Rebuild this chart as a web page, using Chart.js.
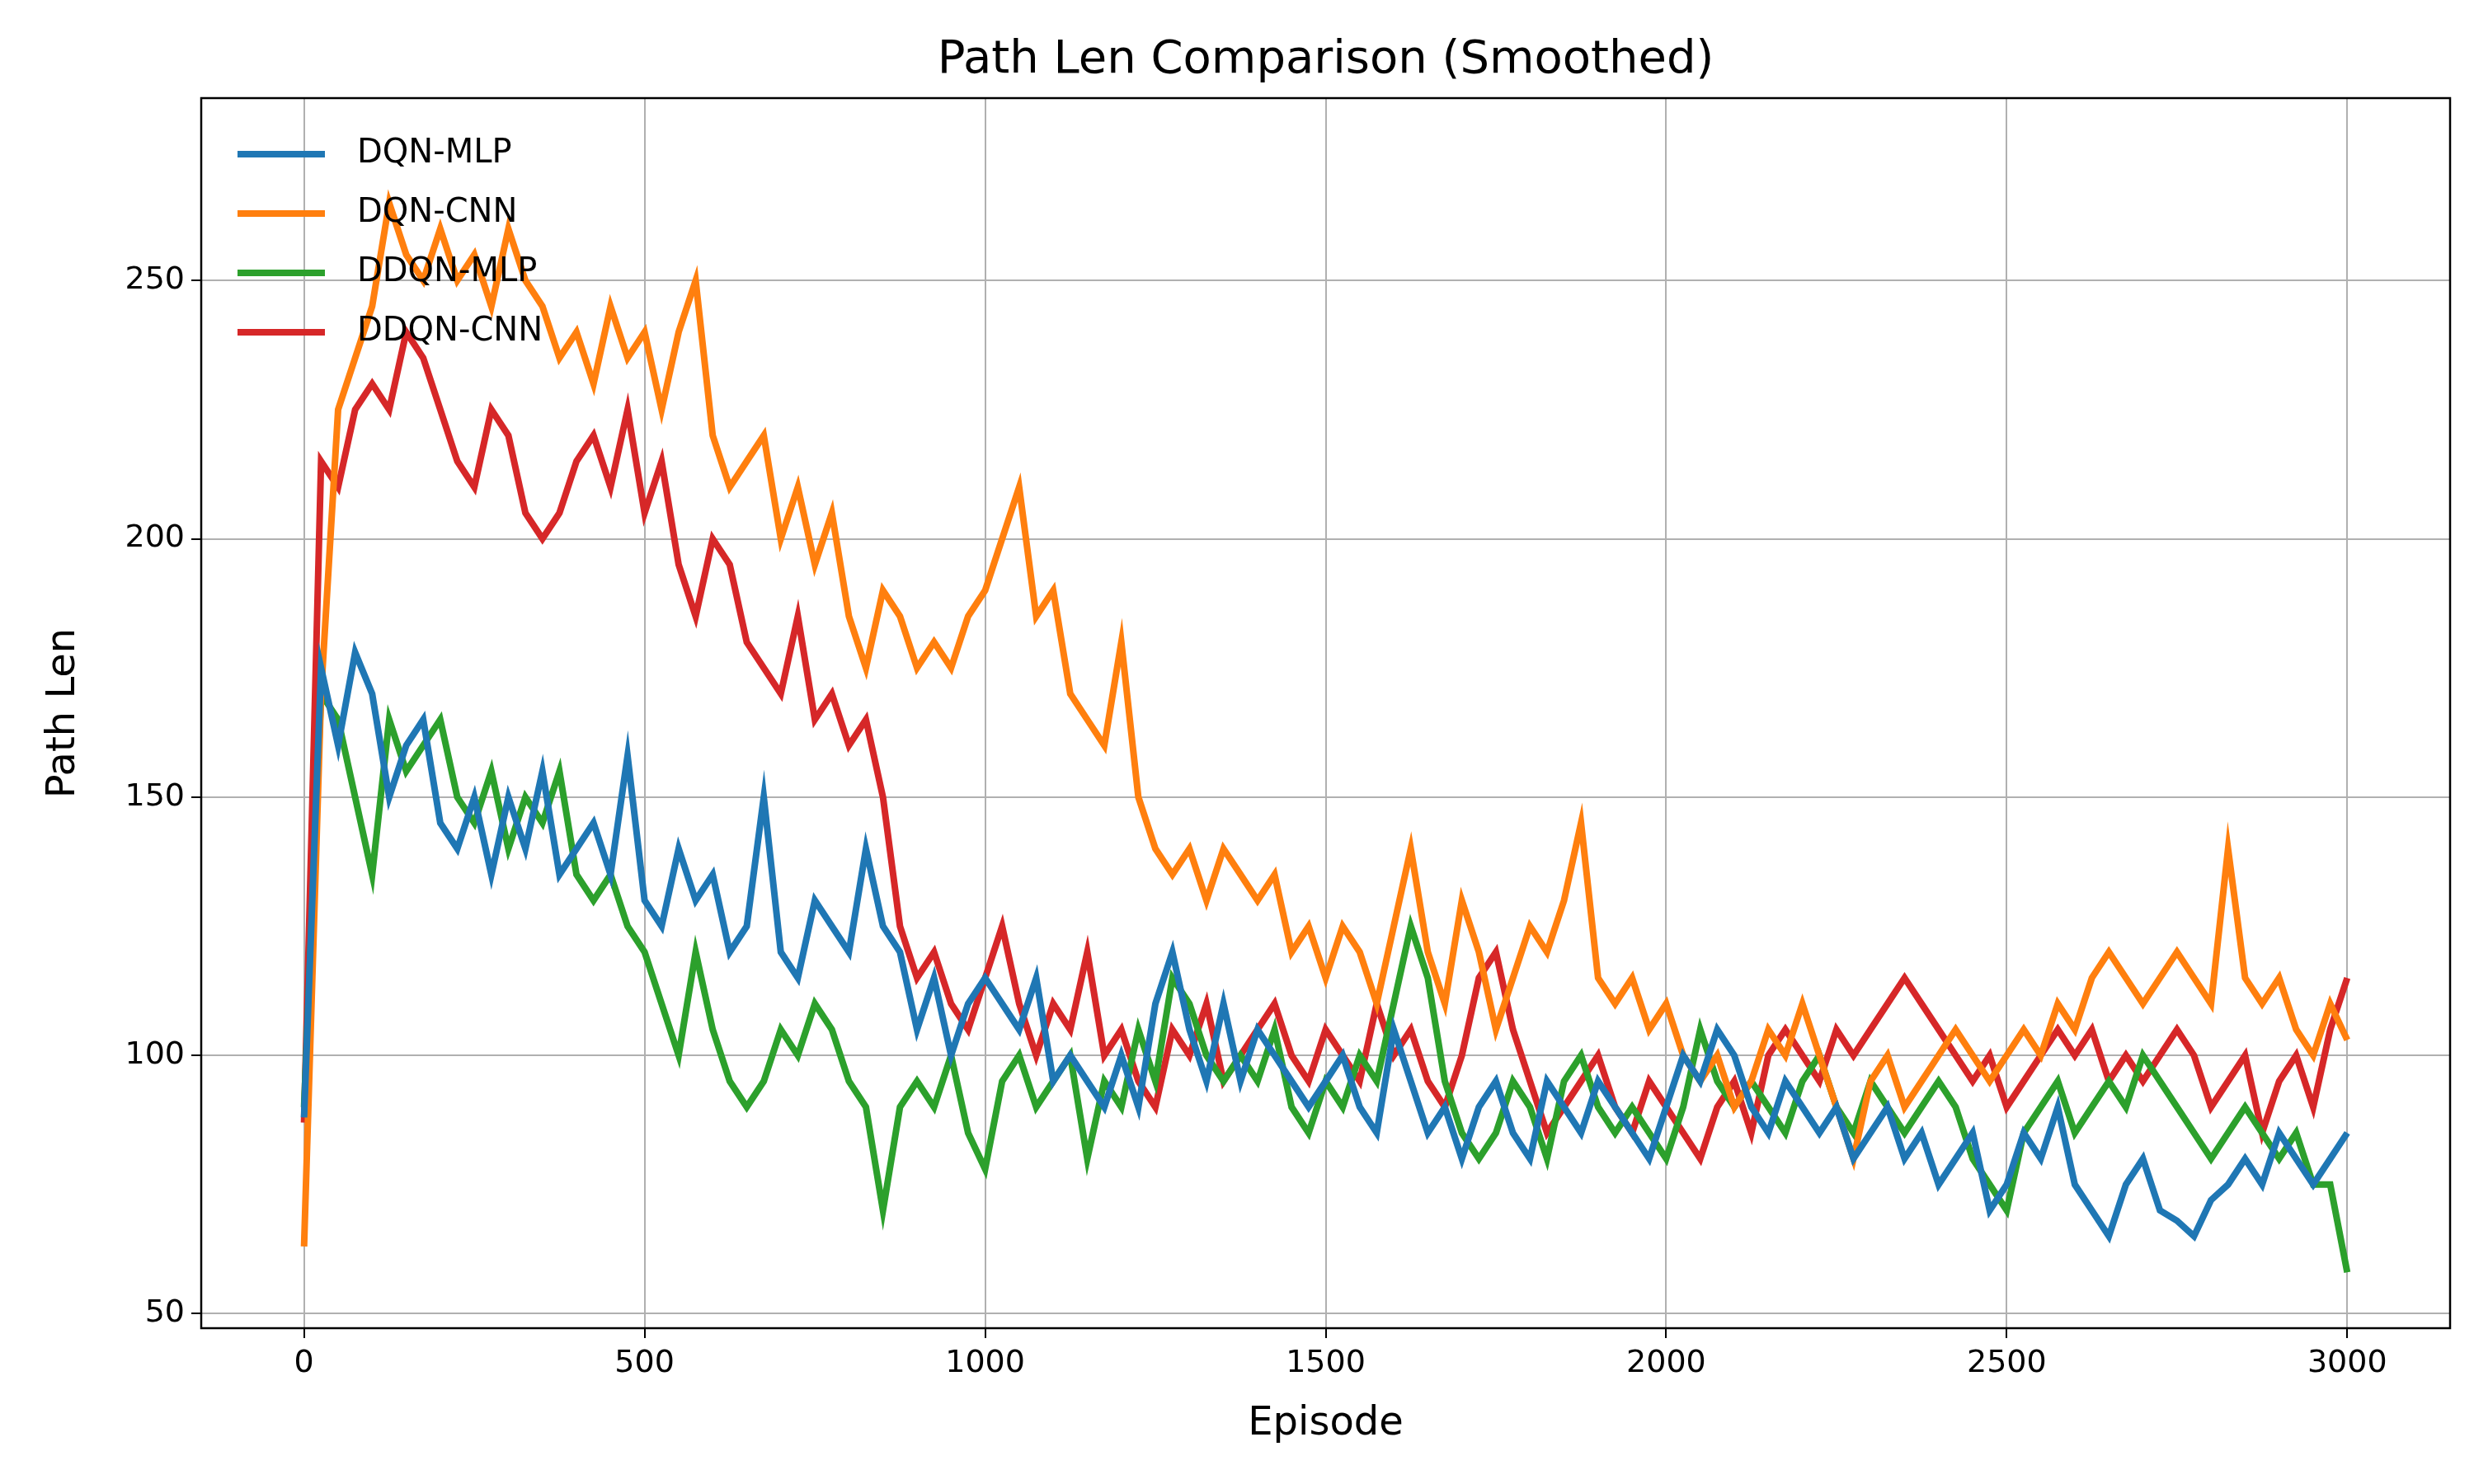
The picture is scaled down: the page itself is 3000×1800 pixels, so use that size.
<!DOCTYPE html>
<html>
<head>
<meta charset="utf-8">
<script src="https://cdn.jsdelivr.net/npm/chart.js@4"></script>
<style>
  body { margin: 0; background: #fff; }
  canvas { display: block; }
</style>
</head>
<body>
<canvas id="pathChart" width="3000" height="1800"></canvas>
<script>
// episodes sampled every 25 steps, 0..3000
const STEP = 25;
const episodes = Array.from({ length: 121 }, (_, i) => i * STEP);
const xTicks = [0, 500, 1000, 1500, 2000, 2500, 3000];
const yTicks = [50, 100, 150, 200, 250];

const dqnMlp = [88,175,160,178,170,150,160,165,145,140,150,135,150,140,155,135,140,145,135,158,
  130,125,140,130,135,120,125,150,120,115,130,125,120,140,125,120,105,115,100,110,
  115,110,105,115,95,100,95,90,100,90,110,120,105,95,110,95,105,100,95,90,
  95,100,90,85,105,95,85,90,80,90,95,85,80,95,90,85,95,90,85,80,
  90,100,95,105,100,90,85,95,90,85,90,80,85,90,80,85,75,80,85,70,
  75,85,80,90,75,70,65,75,80,70,68,65,72,75,80,75,85,80,75,80,85];

const dqnCnn = [63,170,225,235,245,265,255,250,260,250,255,245,260,250,245,235,240,230,245,235,
  240,225,240,250,220,210,215,220,200,210,195,205,185,175,190,185,175,180,175,185,
  190,200,210,185,190,170,165,160,180,150,140,135,140,130,140,135,130,135,120,125,
  115,125,120,110,125,140,120,110,130,120,105,115,125,120,130,145,115,110,115,105,
  110,100,95,100,90,95,105,100,110,100,90,80,95,100,90,95,100,105,100,95,
  100,105,100,110,105,115,120,115,110,115,120,115,110,140,115,110,115,105,100,110,103];

const ddqnMlp = [90,170,165,150,135,165,155,160,165,150,145,155,140,150,145,155,135,130,135,125,
  120,110,100,120,105,95,90,95,105,100,110,105,95,90,70,90,95,90,100,85,
  78,95,100,90,95,100,80,95,90,105,95,115,110,100,95,100,95,105,90,85,
  95,90,100,95,110,125,115,95,85,80,85,95,90,80,95,100,90,85,90,85,
  80,90,105,95,90,95,90,85,95,100,90,85,95,90,85,90,95,90,80,75,
  70,85,90,95,85,90,95,90,100,95,90,85,80,85,90,85,80,85,75,75,58];

const ddqnCnn = [87,215,210,225,230,225,240,235,225,215,210,225,220,205,200,205,215,220,210,225,
  205,215,195,185,200,195,180,175,170,185,165,170,160,165,150,125,115,120,110,105,
  115,125,110,100,110,105,120,100,105,95,90,105,100,110,95,100,105,110,100,95,
  105,100,95,110,100,105,95,90,100,115,120,105,95,85,90,95,100,90,85,95,
  90,85,80,90,95,85,100,105,100,95,105,100,105,110,115,110,105,100,95,100,
  90,95,100,105,100,105,95,100,95,100,105,100,90,95,100,85,95,100,90,105,115];

const seriesNames = ["DQN-MLP", "DQN-CNN", "DDQN-MLP", "DDQN-CNN"];
const seriesColors = ["#1f77b4", "#ff7f0e", "#2ca02c", "#d62728"];
const seriesValues = [dqnMlp, dqnCnn, ddqnMlp, ddqnCnn];

const FONT = "'DejaVu Sans', sans-serif";

const overlay = {
  id: "overlay",
  afterDraw(chart) {
    const { ctx, chartArea: a } = chart;
    ctx.save();
    // frame
    ctx.strokeStyle = "#000";
    ctx.lineWidth = 2.5;
    ctx.strokeRect(a.left, a.top, a.right - a.left, a.bottom - a.top);
    // title
    ctx.fillStyle = "#000";
    ctx.font = "56px " + FONT;
    ctx.textAlign = "center";
    ctx.textBaseline = "middle";
    ctx.fillText("Path Len Comparison (Smoothed)", (a.left + a.right) / 2, 73);
    // legend
    ctx.font = "40px " + FONT;
    ctx.textAlign = "left";
    seriesNames.forEach((name, i) => {
      const y = 187 + i * 72;
      ctx.strokeStyle = seriesColors[i];
      ctx.lineWidth = 8;
      ctx.beginPath();
      ctx.moveTo(288, y);
      ctx.lineTo(394, y);
      ctx.stroke();
      ctx.fillStyle = "#000";
      ctx.fillText(name, 433, y);
    });
    ctx.restore();
  }
};

new Chart(document.getElementById("pathChart"), {
  type: "line",
  data: {
    datasets: seriesNames.map((name, i) => ({
      label: name,
      data: seriesValues[i].map((v, j) => ({ x: episodes[j], y: v })),
      borderColor: seriesColors[i],
      borderWidth: 8,
      pointRadius: 0,
      tension: 0,
      fill: false
    }))
  },
  options: {
    responsive: false,
    animation: false,
    devicePixelRatio: 1,
    layout: { padding: { top: 119, right: 29, left: 45, bottom: 40 } },
    plugins: { legend: { display: false }, title: { display: false }, tooltip: { enabled: false } },
    scales: {
      x: {
        type: "linear",
        min: -151,
        max: 3151,
        afterBuildTicks: (s) => { s.ticks = xTicks.map(v => ({ value: v })); },
        afterFit: (s) => { s.height = 149; },
        grid: { color: "#b0b0b0", lineWidth: 2, tickColor: "#000", tickLength: 12 },
        border: { display: false },
        ticks: { color: "#000", font: { family: FONT, size: 38 }, padding: 8, callback: (v) => String(v) },
        title: { display: true, text: "Episode", color: "#000", font: { family: FONT, size: 48 }, padding: { top: 6 } }
      },
      y: {
        min: 47.2,
        max: 285.3,
        afterBuildTicks: (s) => { s.ticks = yTicks.map(v => ({ value: v })); },
        afterFit: (s) => { s.width = 199; },
        grid: { color: "#b0b0b0", lineWidth: 2, tickColor: "#000", tickLength: 12 },
        border: { display: false },
        ticks: { color: "#000", font: { family: FONT, size: 38 }, padding: 8 },
        title: { display: true, text: "Path Len", color: "#000", font: { family: FONT, size: 48 }, padding: { bottom: 10 } }
      }
    }
  },
  plugins: [overlay]
});
</script>
</body>
</html>
